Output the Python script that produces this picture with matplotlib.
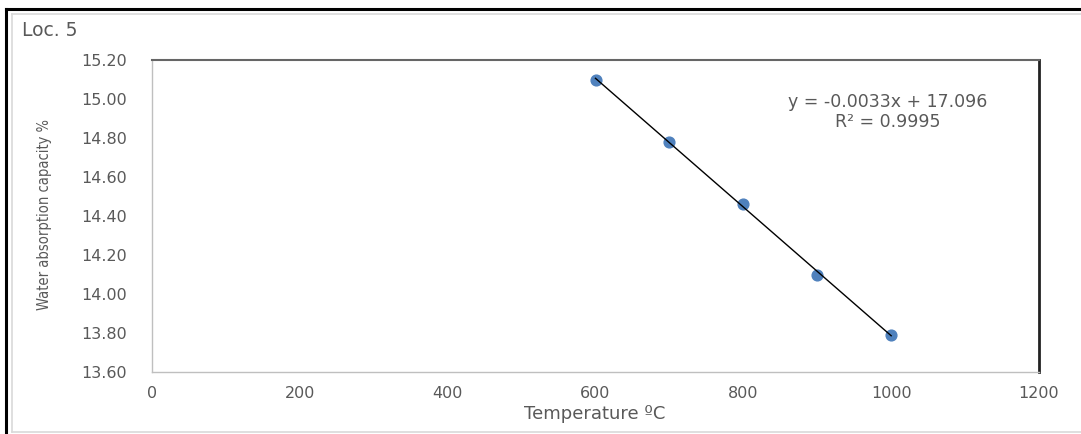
import numpy as np
from matplotlib import pyplot as plt
from matplotlib.lines import Line2D
from matplotlib import font_manager

# données
temperatures = [600, 700, 800, 900, 1000]
absorption = [15.10, 14.78, 14.46, 14.10, 13.79]
equation_text = 'y = -0.0033x + 17.096'
r2_text = 'R² = 0.9995'
x_ticks = [0, 200, 400, 600, 800, 1000, 1200]
y_ticks = [13.60, 13.80, 14.00, 14.20, 14.40, 14.60, 14.80, 15.00, 15.20]

W, H = 1081, 434
GREY = '#595959'

# police étroite pour le titre de l'axe y, si disponible
fonts = font_manager.fontManager.ttflist
names = {f.name for f in fonts}
if 'Liberation Sans Narrow' in names:
    ylab_font = dict(family='Liberation Sans Narrow', fontsize=11.3)
elif any(f.name == 'DejaVu Sans' and 'condensed' in str(f.stretch) for f in fonts):
    ylab_font = dict(family='DejaVu Sans', fontstretch='condensed', fontsize=10.5)
else:
    ylab_font = dict(family='DejaVu Sans', fontsize=9.5)

fig = plt.figure(figsize=(W / 100, H / 100), dpi=100)

# cadres autour de la figure
def px_line(xs, ys, **kw):
    fig.add_artist(Line2D([x / W for x in xs], [1 - y / H for y in ys],
                          transform=fig.transFigure, **kw))

px_line([12, 1081], [14, 14], color='#d9d9d9', lw=1.2)
px_line([12, 12], [14, 432], color='#d9d9d9', lw=1.2)
px_line([12, 1081], [432, 432], color='#d9d9d9', lw=1.2)
px_line([6, 1081], [9, 9], color='black', lw=2.2)
px_line([6, 6], [9, 434], color='black', lw=2.2)

ax = fig.add_axes([152 / W, 1 - 372 / H, (1039 - 152) / W, (372 - 60) / H])

ax.scatter(temperatures, absorption, s=60, color='#4F81BD', zorder=3)

# droite de tendance
a, b = np.polyfit(temperatures, absorption, 1)
xs = np.array([temperatures[0], temperatures[-1]])
ax.plot(xs, a * xs + b, color='black', lw=1, zorder=4)

ax.set_xlim(0, 1200)
ax.set_ylim(13.6, 15.2)
ax.set_xticks(x_ticks)
ax.set_yticks(y_ticks)
ax.set_yticklabels([f'{v:.2f}' for v in y_ticks])
ax.tick_params(length=0, labelsize=11.5, colors=GREY)
ax.tick_params(axis='y', pad=18)
ax.tick_params(axis='x', pad=10)

for side in ['left', 'bottom']:
    ax.spines[side].set_color('#bfbfbf')
    ax.spines[side].set_linewidth(1)
ax.spines['top'].set_color('#666666')
ax.spines['top'].set_linewidth(1.5)
ax.spines['right'].set_color('#222222')
ax.spines['right'].set_linewidth(2)

ax.text(888 / W, 1 - 102 / H, equation_text, transform=fig.transFigure,
        ha='center', va='center', fontsize=12.5, color=GREY)
ax.text(888 / W, 1 - 122 / H, r2_text, transform=fig.transFigure,
        ha='center', va='center', fontsize=12.5, color=GREY)

fig.text(22 / W, 1 - 31 / H, 'Loc. 5', ha='left', va='center', fontsize=13.5, color=GREY)
fig.text(45 / W, 1 - 215 / H, 'Water absorption capacity %', rotation=90,
         ha='center', va='center', color=GREY, **ylab_font)
fig.text(595 / W, 1 - 414 / H, 'Temperature ºC', ha='center', va='center',
         fontsize=13, color=GREY)

fig.savefig('out.png', dpi=100)
